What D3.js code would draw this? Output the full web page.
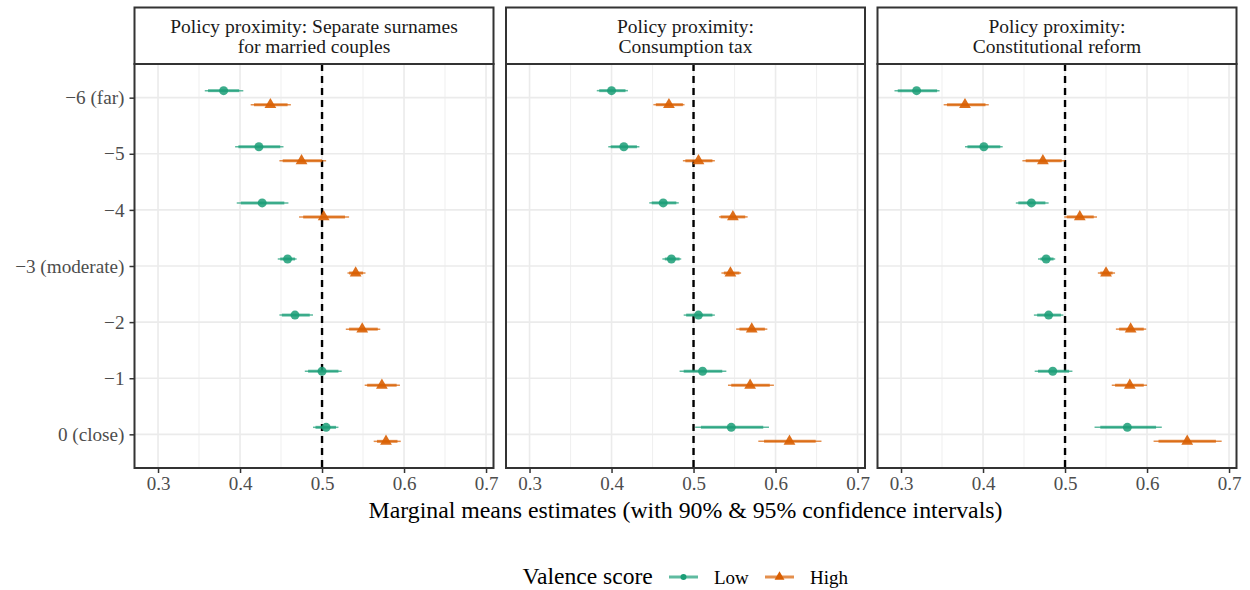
<!DOCTYPE html>
<html>
<head>
<meta charset="utf-8">
<script src="https://cdn.jsdelivr.net/npm/d3@7"></script>
<style>
  body { margin: 0; background: #fff; }
  text { font-family: "Liberation Serif", "Times New Roman", serif; }
</style>
</head>
<body>
<div id="chart"></div>
<script>
// categories and labels
var categories = ["−6 (far)", "−5", "−4", "−3 (moderate)", "−2", "−1", "0 (close)"];
var panelTitles = [
    ["Policy proximity: Separate surnames", "for married couples"],
    ["Policy proximity:", "Consumption tax"],
    ["Policy proximity:", "Constitutional reform"]
];
var xTicks = [0.3, 0.4, 0.5, 0.6, 0.7];
var groups = ["Low", "High"];

// rows: [estimate, lo95, lo90, hi90, hi95]
var surnamesLow = [
    [0.380, 0.357, 0.361, 0.399, 0.404],
    [0.423, 0.394, 0.398, 0.449, 0.453],
    [0.427, 0.396, 0.401, 0.454, 0.459],
    [0.458, 0.446, 0.449, 0.467, 0.469],
    [0.467, 0.448, 0.451, 0.485, 0.489],
    [0.500, 0.479, 0.483, 0.520, 0.524],
    [0.505, 0.489, 0.492, 0.517, 0.520]
];
var surnamesHigh = [
    [0.437, 0.413, 0.417, 0.458, 0.462],
    [0.475, 0.448, 0.452, 0.500, 0.505],
    [0.502, 0.472, 0.477, 0.528, 0.533],
    [0.541, 0.531, 0.533, 0.550, 0.553],
    [0.549, 0.529, 0.533, 0.568, 0.571],
    [0.573, 0.552, 0.555, 0.591, 0.595],
    [0.578, 0.563, 0.567, 0.592, 0.596]
];
var taxLow = [
    [0.400, 0.382, 0.385, 0.417, 0.420],
    [0.415, 0.396, 0.399, 0.431, 0.434],
    [0.463, 0.446, 0.449, 0.479, 0.482],
    [0.473, 0.462, 0.465, 0.483, 0.485],
    [0.506, 0.488, 0.491, 0.523, 0.526],
    [0.511, 0.483, 0.488, 0.535, 0.540],
    [0.546, 0.502, 0.509, 0.585, 0.592]
];
var taxHigh = [
    [0.470, 0.451, 0.454, 0.487, 0.489],
    [0.506, 0.487, 0.490, 0.523, 0.526],
    [0.548, 0.531, 0.533, 0.563, 0.566],
    [0.545, 0.534, 0.537, 0.556, 0.558],
    [0.571, 0.552, 0.556, 0.587, 0.590],
    [0.569, 0.542, 0.546, 0.593, 0.598],
    [0.617, 0.579, 0.586, 0.649, 0.656]
];
var reformLow = [
    [0.319, 0.292, 0.296, 0.344, 0.347],
    [0.401, 0.378, 0.381, 0.421, 0.424],
    [0.459, 0.440, 0.443, 0.476, 0.480],
    [0.477, 0.467, 0.470, 0.486, 0.488],
    [0.480, 0.462, 0.466, 0.495, 0.498],
    [0.485, 0.463, 0.467, 0.505, 0.509],
    [0.576, 0.536, 0.543, 0.611, 0.618]
];
var reformHigh = [
    [0.378, 0.352, 0.356, 0.403, 0.407],
    [0.473, 0.448, 0.452, 0.496, 0.500],
    [0.518, 0.499, 0.502, 0.535, 0.539],
    [0.550, 0.540, 0.543, 0.558, 0.561],
    [0.580, 0.562, 0.566, 0.596, 0.599],
    [0.579, 0.557, 0.561, 0.596, 0.600],
    [0.649, 0.608, 0.614, 0.684, 0.691]
];
var panelData = [
    [surnamesLow, surnamesHigh],
    [taxLow, taxHigh],
    [reformLow, reformHigh]
];

var width = 1250;
var height = 590;
var colors = {Low: "#1B9E77", High: "#D95F02"};
var gridCol = "#EBEBEB";
var frameCol = "#333333";

var svg = d3.select("#chart")
    .append("svg")
    .attr("width", width)
    .attr("height", height);

var panelW = 359;
var panelLeft0 = 134.5;
var panelGap = 371.5;
var stripTop = 7.5;
var plotTop = 64;
var plotBottom = 468;

var y = d3.scalePoint()
    .domain(categories)
    .range([plotTop, plotBottom])
    .padding(0.6);
var dodge = y.step() * 0.125;

var tri = d3.symbol().type(d3.symbolTriangle).size(60);
var triSmall = d3.symbol().type(d3.symbolTriangle).size(42);

panelData.forEach(function(series, p) {
    var left = panelLeft0 + p * panelGap;
    var x = d3.scaleLinear()
        .domain([0.2713, 0.7091])
        .range([left, left + panelW]);

    var g = svg.append("g");

    // minor grid
    g.selectAll(".minor")
        .data([0.35, 0.45, 0.55, 0.65])
        .enter().append("line")
        .attr("x1", d => x(d)).attr("x2", d => x(d))
        .attr("y1", plotTop).attr("y2", plotBottom)
        .attr("stroke", gridCol).attr("stroke-width", 0.8);

    // major grid
    g.selectAll(".major")
        .data(xTicks)
        .enter().append("line")
        .attr("x1", d => x(d)).attr("x2", d => x(d))
        .attr("y1", plotTop).attr("y2", plotBottom)
        .attr("stroke", gridCol).attr("stroke-width", 1.6);

    g.selectAll(".hgrid")
        .data(categories)
        .enter().append("line")
        .attr("x1", left).attr("x2", left + panelW)
        .attr("y1", d => y(d)).attr("y2", d => y(d))
        .attr("stroke", gridCol).attr("stroke-width", 1.6);

    // reference line at 0.5
    g.append("line")
        .attr("x1", x(0.5)).attr("x2", x(0.5))
        .attr("y1", plotTop).attr("y2", plotBottom)
        .attr("stroke", "#000").attr("stroke-width", 2.4)
        .attr("stroke-dasharray", "7,5");

    series.forEach(function(rows, gi) {
        var name = groups[gi];
        var off = gi === 0 ? -dodge : dodge;
        var sg = g.append("g");

        sg.selectAll(".ci95")
            .data(rows)
            .enter().append("line")
            .attr("x1", d => x(d[1])).attr("x2", d => x(d[4]))
            .attr("y1", (d, i) => y(categories[i]) + off)
            .attr("y2", (d, i) => y(categories[i]) + off)
            .attr("stroke", colors[name]).attr("stroke-opacity", 0.7)
            .attr("stroke-width", 1.5);

        sg.selectAll(".ci90")
            .data(rows)
            .enter().append("line")
            .attr("x1", d => x(d[2])).attr("x2", d => x(d[3]))
            .attr("y1", (d, i) => y(categories[i]) + off)
            .attr("y2", (d, i) => y(categories[i]) + off)
            .attr("stroke", colors[name]).attr("stroke-opacity", 0.7)
            .attr("stroke-width", 3);

        if (name === "Low") {
            sg.selectAll(".pt")
                .data(rows)
                .enter().append("circle")
                .attr("cx", d => x(d[0]))
                .attr("cy", (d, i) => y(categories[i]) + off)
                .attr("r", 4.5)
                .attr("fill", colors[name]).attr("fill-opacity", 0.85);
        } else {
            sg.selectAll(".pt")
                .data(rows)
                .enter().append("path")
                .attr("d", tri)
                .attr("transform", (d, i) => "translate(" + x(d[0]) + "," + (y(categories[i]) + off) + ")")
                .attr("fill", colors[name]).attr("fill-opacity", 0.9);
        }
    });

    // panel border
    g.append("rect")
        .attr("x", left).attr("y", plotTop)
        .attr("width", panelW).attr("height", plotBottom - plotTop)
        .attr("fill", "none").attr("stroke", frameCol).attr("stroke-width", 2);

    // strip
    g.append("rect")
        .attr("x", left).attr("y", stripTop)
        .attr("width", panelW).attr("height", plotTop - stripTop)
        .attr("fill", "#fff").attr("stroke", frameCol).attr("stroke-width", 2);

    g.selectAll(".strip")
        .data(panelTitles[p])
        .enter().append("text")
        .attr("x", left + panelW / 2)
        .attr("y", (d, i) => 32.5 + i * 20.5)
        .attr("text-anchor", "middle")
        .attr("font-size", 19.5)
        .attr("fill", "#1A1A1A")
        .text(d => d);

    // x axis
    var xAxis = g.append("g")
        .attr("transform", "translate(0," + plotBottom + ")")
        .call(d3.axisBottom(x).tickValues(xTicks).tickSize(5).tickPadding(4)
            .tickFormat(d3.format(".1f")));
    xAxis.select(".domain").remove();
    xAxis.selectAll(".tick line").attr("stroke", frameCol).attr("stroke-width", 1.5);
    xAxis.selectAll(".tick text")
        .attr("font-size", 19)
        .attr("fill", "#4D4D4D");

    if (p === 0) {
        var yAxis = g.append("g")
            .attr("transform", "translate(" + left + ",0)")
            .call(d3.axisLeft(y).tickSize(5).tickPadding(5));
        yAxis.select(".domain").remove();
        yAxis.selectAll(".tick line").attr("stroke", frameCol).attr("stroke-width", 1.5);
        yAxis.selectAll(".tick text")
            .attr("font-size", 19.2)
            .attr("fill", "#4D4D4D");
    }
});

// axis title
svg.append("text")
    .attr("x", panelLeft0 + (2 * panelGap + panelW) / 2)
    .attr("y", 518)
    .attr("text-anchor", "middle")
    .attr("font-size", 23.8)
    .attr("fill", "#000")
    .text("Marginal means estimates (with 90% & 95% confidence intervals)");

// legend
var legend = svg.append("g");
legend.append("text")
    .attr("x", 522.5).attr("y", 584)
    .attr("font-size", 23.6)
    .text("Valence score");

var keyX = [669, 765];
groups.forEach(function(name, i) {
    var kx = keyX[i];
    legend.append("line")
        .attr("x1", kx).attr("x2", kx + 29)
        .attr("y1", 577).attr("y2", 577)
        .attr("stroke", colors[name]).attr("stroke-opacity", 0.7)
        .attr("stroke-width", 3);
    if (name === "Low") {
        legend.append("circle")
            .attr("cx", kx + 14.5).attr("cy", 577).attr("r", 3)
            .attr("fill", colors[name]);
    } else {
        legend.append("path")
            .attr("d", triSmall)
            .attr("transform", "translate(" + (kx + 14.5) + ",577)")
            .attr("fill", colors[name]);
    }
    legend.append("text")
        .attr("x", kx + 45).attr("y", 583.5)
        .attr("font-size", 19)
        .text(name);
});
</script>
</body>
</html>
